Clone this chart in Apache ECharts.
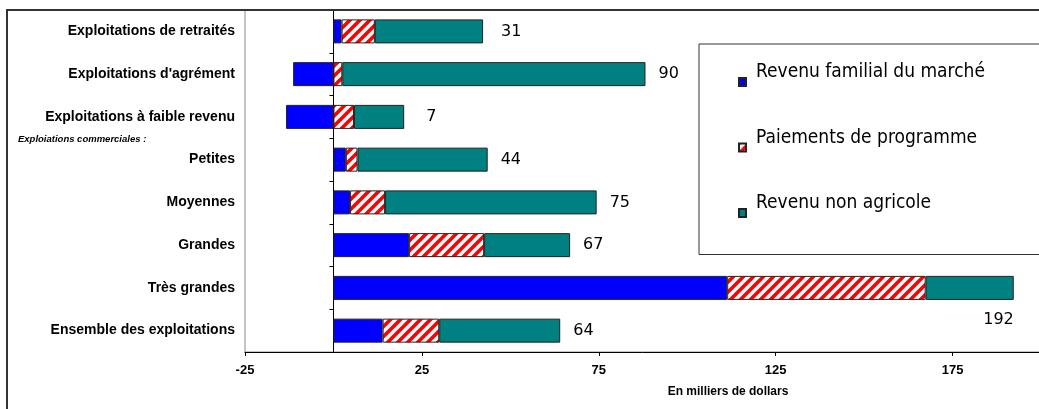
<!DOCTYPE html>
<html>
<head>
<meta charset="utf-8">
<script src="https://cdn.jsdelivr.net/npm/echarts@6/dist/echarts.min.js"></script>
<style>
  html, body { margin: 0; padding: 0; background: #fff; }
  #chart { width: 1039px; height: 409px; }
</style>
</head>
<body>
<div id="chart"></div>
<script>
// ---- Data (in thousands of dollars) ----
const categories = [
  "Exploitations de retraités",
  "Exploitations d'agrément",
  "Exploitations à faible revenu",
  "Petites",
  "Moyennes",
  "Grandes",
  "Très grandes",
  "Ensemble des exploitations"
];
const seriesNames = ["Revenu familial du marché", "Paiements de programme", "Revenu non agricole"];
const marketIncome   = [2.3, -11.4, -13.4, 3.5, 4.7, 21.4, 111.3, 13.9];
const programPayments = [9.4, 2.5, 5.8, 3.3, 9.9, 21.2, 56.1, 16.0];
const offFarmIncome  = [30.6, 85.7, 14.2, 36.8, 59.8, 24.3, 24.9, 34.2];
const totalLabels    = [31, 90, 7, 44, 75, 67, 192, 64];
const xTicks = { min: -25, max: 200, interval: 50 };
const axisTitle = "En milliers de dollars";
const groupNote = "Exploiations commerciales :";

// ---- Hatch pattern for program payments ----
function makeHatch() {
  const c = document.createElement('canvas');
  c.width = 10; c.height = 10;
  const g = c.getContext('2d');
  g.fillStyle = '#ffffff';
  g.fillRect(0, 0, 10, 10);
  g.strokeStyle = '#ff0000';
  g.lineWidth = 3.6;
  g.beginPath();
  g.moveTo(-5, 5); g.lineTo(5, -5);
  g.moveTo(0, 10); g.lineTo(10, 0);
  g.moveTo(5, 15); g.lineTo(15, 5);
  g.stroke();
  return c;
}

// choose a condensed legend font if one is installed
function legendFont() {
  const g = document.createElement('canvas').getContext('2d');
  const probe = seriesNames[0];
  g.font = "23px monospace"; const a = g.measureText(probe).width;
  g.font = "23px 'Liberation Sans Narrow', monospace"; const b = g.measureText(probe).width;
  if (Math.abs(a - b) > 1) return { family: "'Liberation Sans Narrow'", size: 22 };
  g.font = "23px 'DejaVu Sans Condensed', monospace"; const c = g.measureText(probe).width;
  if (Math.abs(a - c) > 1) return { family: "'DejaVu Sans Condensed'", size: 19 };
  return { family: "'Liberation Sans', Arial", size: 20 };
}
const lf = legendFont();

// per-item label placement tweaks (by category index)
const labelTweaks = {
  0: { distance: 18 },
  2: { distance: 22 },
  6: { position: 'insideRight', distance: 0, offset: [0, 32] }
};

const chart = echarts.init(document.getElementById('chart'), null, { renderer: 'canvas' });
const border = { borderColor: '#222', borderWidth: 1 };

const option = {
  animation: false,
  backgroundColor: '#fff',
  grid: {
    left: 245, top: 10, right: -2, bottom: 57,
    outerBoundsMode: 'none',
    containLabel: false,
    show: true, borderColor: '#8a8a8a', borderWidth: 1, backgroundColor: 'transparent'
  },
  legend: {
    orient: 'vertical',
    left: 699, top: 44,
    icon: 'rect',
    itemWidth: 7, itemHeight: 8,
    itemGap: 25,
    padding: [19, 80, 20, 39],
    borderColor: '#333', borderWidth: 1,
    selectedMode: false,
    formatter: name => '{t|' + name + '}\n{s| }',
    textStyle: {
      color: '#000',
      padding: [0, 0, 0, 5],
      rich: {
        t: { fontFamily: lf.family + ", sans-serif", fontSize: lf.size, lineHeight: 24, color: '#000' },
        s: { fontSize: 4, lineHeight: 19, height: 19 }
      }
    },
    data: seriesNames
  },
  xAxis: {
    type: 'value',
    min: xTicks.min, max: xTicks.max, interval: xTicks.interval,
    splitLine: { show: false },
    axisLine: { show: true, lineStyle: { color: '#000', width: 1 } },
    axisTick: { show: true, length: 4, lineStyle: { color: '#000' } },
    axisLabel: {
      showMaxLabel: false, margin: 12,
      fontFamily: "'Liberation Sans', Arial, sans-serif",
      fontWeight: 'bold', fontSize: 13, color: '#000'
    },
    name: axisTitle,
    nameLocation: 'middle',
    nameGap: 34,
    nameTextStyle: {
      fontFamily: "'Liberation Sans', Arial, sans-serif",
      fontWeight: 'bold', fontSize: 12, color: '#000',
      padding: [0, 0, 0, 170]
    }
  },
  yAxis: {
    type: 'category',
    data: categories,
    inverse: true,
    axisLine: { show: true, onZero: true, lineStyle: { color: '#000', width: 1 } },
    axisTick: { show: true, length: 4, lineStyle: { color: '#000' } },
    axisLabel: {
      margin: 10,
      fontFamily: "'Liberation Sans', Arial, sans-serif",
      fontWeight: 'bold', fontSize: 14, color: '#000'
    }
  },
  graphic: [
    {
      type: 'rect', silent: true, z: 100,
      shape: { x: 7, y: 10, width: 1200, height: 600 },
      style: { fill: 'none', stroke: '#333', lineWidth: 2 }
    },
    {
      type: 'text', left: 18, top: 134, silent: true,
      style: {
        text: groupNote,
        font: "italic bold 9.5px 'Liberation Sans', Arial, sans-serif",
        fill: '#000'
      }
    }
  ],
  series: [
    {
      name: seriesNames[0], type: 'bar', stack: 'total', barWidth: 24,
      itemStyle: Object.assign({ color: '#0000ff' }, border),
      data: marketIncome
    },
    {
      name: seriesNames[1], type: 'bar', stack: 'total', barWidth: 24,
      itemStyle: Object.assign({ color: { image: makeHatch(), repeat: 'repeat' } }, border),
      data: programPayments
    },
    {
      name: seriesNames[2], type: 'bar', stack: 'total', barWidth: 24,
      itemStyle: Object.assign({ color: '#008080' }, border),
      label: {
        show: true, position: 'right', distance: 13,
        fontFamily: "'DejaVu Sans', Verdana, sans-serif",
        fontSize: 16, color: '#000',
        formatter: p => String(totalLabels[p.dataIndex])
      },
      data: offFarmIncome.map((v, i) => labelTweaks[i] ? { value: v, label: labelTweaks[i] } : v)
    }
  ]
};
chart.setOption(option);
</script>
</body>
</html>
